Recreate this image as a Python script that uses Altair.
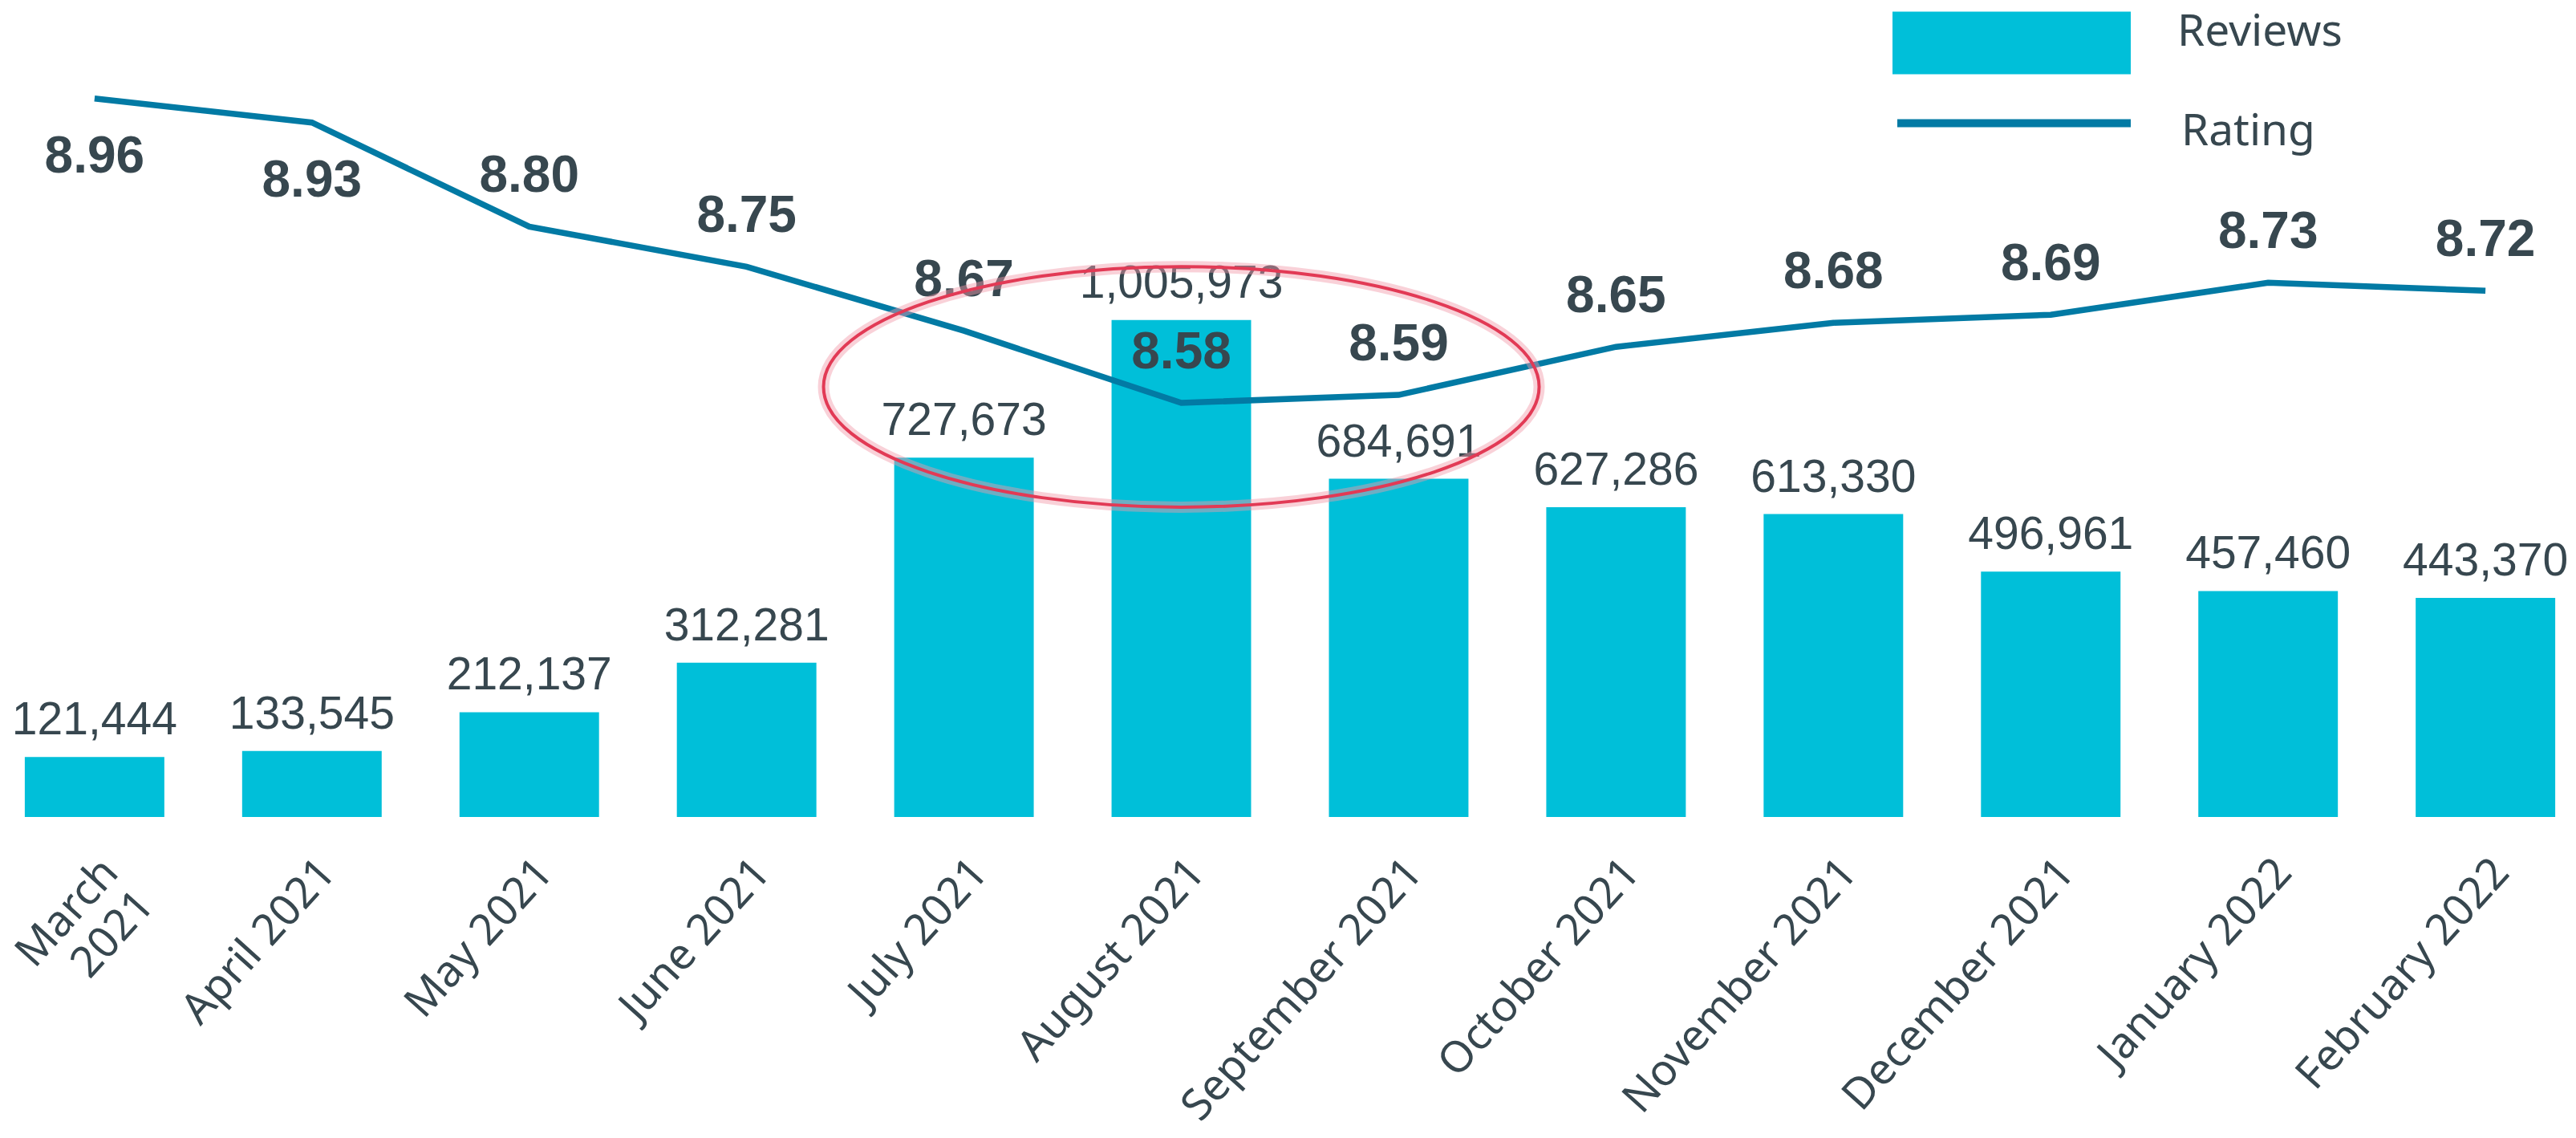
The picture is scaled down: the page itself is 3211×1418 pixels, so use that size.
import altair as alt
import pandas as pd

months = ["March 2021", "April 2021", "May 2021", "June 2021", "July 2021",
          "August 2021", "September 2021", "October 2021", "November 2021",
          "December 2021", "January 2022", "February 2022"]
reviews = [121444, 133545, 212137, 312281, 727673, 1005973, 684691,
           627286, 613330, 496961, 457460, 443370]
ratings = [8.96, 8.93, 8.80, 8.75, 8.67, 8.58, 8.59, 8.65, 8.68, 8.69, 8.73, 8.72]
labels_below = ["March 2021", "April 2021"]
highlight_month = ["August 2021"]
highlight_rating = [8.60]

BAR = "#00bfd9"
LINE = "#027aa4"
TXT = "#37474f"
RED = "#e23a55"

df = pd.DataFrame({"month": months, "reviews": reviews, "rating": ratings})
df["reviews_label"] = [f"{v:,}" for v in reviews]
df["rating_label"] = [f"{v:.2f}" for v in ratings]
df["bar_series"] = "Reviews"
df["line_series"] = "Rating"
hl = pd.DataFrame({"month": highlight_month, "rating": highlight_rating})

x = alt.X(
    "month:N", sort=months,
    scale=alt.Scale(paddingInner=0.358, paddingOuter=0.055),
    axis=alt.Axis(title=None, labelAngle=-48, labelAlign="right", labelBaseline="top",
                  labelPadding=42, labelFont="Noto Sans", labelFontSize=54,
                  labelColor=TXT, domain=False, ticks=False, labelLimit=0,
                  labelOverlap=False, labelLineHeight=60,
                  labelExpr="datum.value == 'March 2021' ? ['March', '2021'] : datum.value"),
)
y_rev = alt.Y("reviews:Q", scale=alt.Scale(domain=[0, 1641000]), axis=None)
y_rat = alt.Y("rating:Q", scale=alt.Scale(domain=[8.063, 9.075]), axis=None)

base = alt.Chart(df)

# legend swatches: a wide box and a line, drawn a little off the label centre as in the source
BOX = "M-1,-0.169H1V0.357H-1Z"
STROKE = "M-1,-0.069H1"

bars = base.mark_bar().encode(
    x=x, y=y_rev,
    fill=alt.Fill("bar_series:N",
                  scale=alt.Scale(domain=["Reviews"], range=[BAR]),
                  legend=alt.Legend(title=None, orient="none", legendX=2343, legendY=-117,
                                    symbolType=BOX, symbolSize=88209,
                                    symbolStrokeWidth=0, symbolOpacity=1,
                                    labelFont="Noto Sans", labelFontSize=55, labelLimit=500,
                                    labelColor=TXT, labelOffset=58, padding=0)),
)
bar_text = base.mark_text(font="Liberation Sans", fontSize=57, color=TXT,
                          baseline="alphabetic", dy=-28).encode(
    x=x, y=y_rev, text="reviews_label:N")

line = base.mark_line(strokeWidth=7.5).encode(
    x=x, y=y_rat,
    stroke=alt.Stroke("line_series:N",
                      scale=alt.Scale(domain=["Rating"], range=[LINE]),
                      legend=alt.Legend(title=None, orient="none", legendX=2344, legendY=5,
                                        symbolType=STROKE, symbolSize=84681,
                                        symbolStrokeWidth=10, labelLimit=500,
                                        labelFont="Noto Sans", labelFontSize=55,
                                        labelColor=TXT, labelOffset=58, padding=0)),
)
rat_above = base.mark_text(font="Liberation Sans", fontSize=64, fontWeight="bold",
                           color=TXT, baseline="middle", dy=-62).encode(
    x=x, y=y_rat, text="rating_label:N"
).transform_filter(~alt.FieldOneOfPredicate(field="month", oneOf=labels_below))
rat_below = base.mark_text(font="Liberation Sans", fontSize=64, fontWeight="bold",
                           color=TXT, baseline="middle", dy=73).encode(
    x=x, y=y_rat, text="rating_label:N"
).transform_filter(alt.FieldOneOfPredicate(field="month", oneOf=labels_below))

ELLIPSE = "M-1,0A1,0.336,0,1,1,1,0A1,0.336,0,1,1,-1,0Z"
glow = alt.Chart(hl).mark_point(shape=ELLIPSE, size=795664, filled=False,
                                stroke="#f29aaa", strokeWidth=14, opacity=0.45).encode(
    x=alt.X("month:N", sort=months), y=y_rat)
ring = alt.Chart(hl).mark_point(shape=ELLIPSE, size=795664, filled=False,
                                stroke=RED, strokeWidth=4, opacity=1).encode(
    x=alt.X("month:N", sort=months), y=y_rat)

chart = alt.layer(bars, bar_text, line, rat_above, rat_below, glow, ring).resolve_scale(
    y="independent"
).properties(
    width=3184, height=1010,
    autosize=alt.AutoSizeParams(type="none"),
    padding={"left": 8, "top": 0, "right": 0, "bottom": 392},
).configure_view(stroke=None)

chart.save("out.html", embed_options={"renderer": "svg", "actions": False})
